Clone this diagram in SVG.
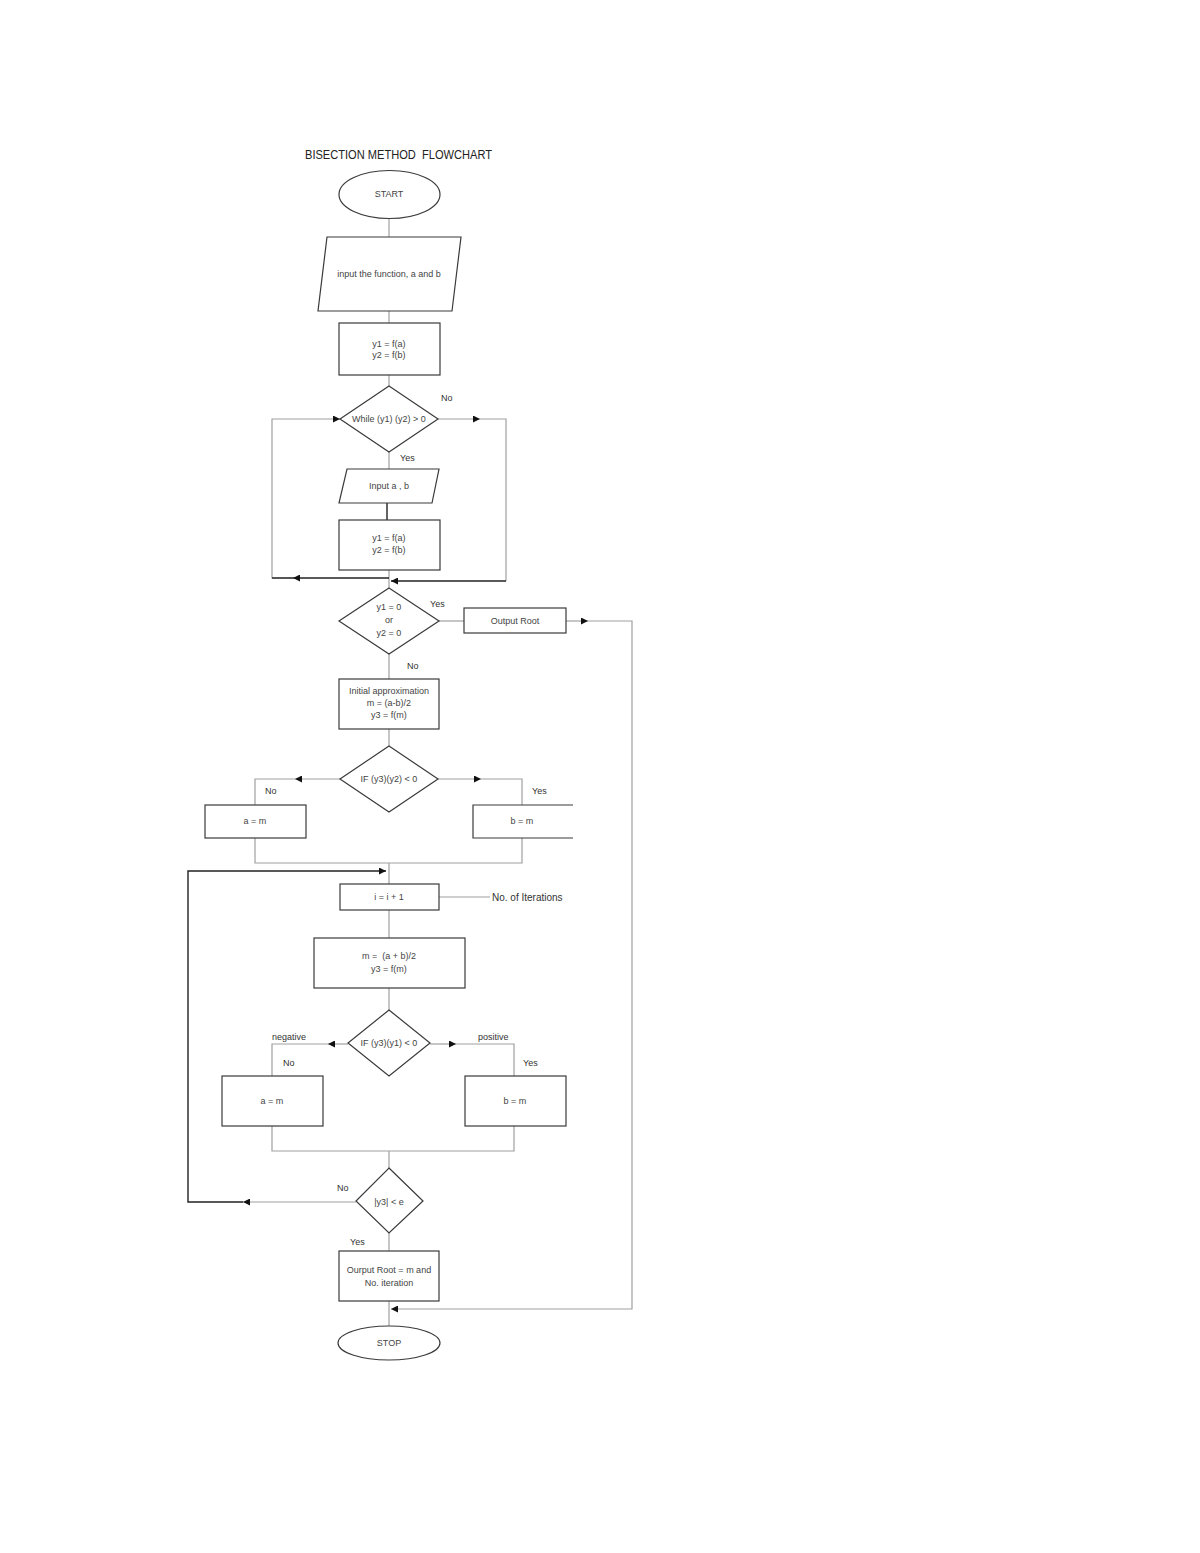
<svg xmlns="http://www.w3.org/2000/svg" width="1200" height="1553" viewBox="0 0 1200 1553">
<style>
.bg{fill:#ffffff}
.node{fill:#ffffff;stroke:#3a3a3a;stroke-width:1.2}
.open{fill:none;stroke:#3a3a3a;stroke-width:1.2}
.t{font-family:"Liberation Sans",Arial,sans-serif;font-size:9px;fill:#444;text-anchor:middle}
.lbl{font-family:"Liberation Sans",Arial,sans-serif;font-size:9px;fill:#333}
.title{font-family:"Liberation Sans",Arial,sans-serif;font-size:12px;fill:#222;white-space:pre}
.c{fill:none;stroke:#a0a0a0;stroke-width:1.2}
.k{fill:none;stroke:#222;stroke-width:1.4}
</style>
<defs>
<marker id="ah" viewBox="0 0 8 8" refX="8" refY="4" markerWidth="7" markerHeight="7" markerUnits="userSpaceOnUse" orient="auto">
<path d="M0,0 L8,4 L0,8 z" fill="#111"/>
</marker>
</defs>
<rect class="bg" x="0" y="0" width="1200" height="1553"/>
<text class="title" xml:space="preserve" x="305" y="159" textLength="187" lengthAdjust="spacingAndGlyphs">BISECTION METHOD  FLOWCHART</text>

<g id="connectors">
<line class="c" x1="389" y1="218" x2="389" y2="237"/>
<line class="c" x1="389" y1="311" x2="389" y2="323"/>
<line class="c" x1="389" y1="375" x2="389" y2="386"/>
<line class="c" x1="389" y1="452" x2="389" y2="469"/>
<line class="k" x1="387" y1="503" x2="387" y2="520"/>
<line class="c" x1="389" y1="570" x2="389" y2="588"/>
<path class="k" d="M389,578 L293,578" marker-end="url(#ah)"/>
<path class="c" d="M293,578 L272,578 L272,419 L340,419" marker-end="url(#ah)"/>
<path class="k" d="M272,578 L293,578"/>
<path class="c" d="M438,419 L480,419" marker-end="url(#ah)"/>
<path class="c" d="M480,419 L506,419 L506,581"/>
<path class="k" d="M506,581 L391,581" marker-end="url(#ah)"/>
<line class="c" x1="439" y1="621" x2="464" y2="621"/>
<path class="c" d="M566,621 L588,621" marker-end="url(#ah)"/>
<path class="c" d="M588,621 L632,621 L632,1309 L391,1309" marker-end="url(#ah)"/>
<line class="c" x1="389" y1="654" x2="389" y2="679"/>
<line class="c" x1="389" y1="729" x2="389" y2="746"/>
<path class="c" d="M340,779 L295,779" marker-end="url(#ah)"/>
<path class="c" d="M295,779 L255,779 L255,805"/>
<path class="c" d="M438,779 L481,779" marker-end="url(#ah)"/>
<path class="c" d="M481,779 L522,779 L522,805"/>
<path class="c" d="M255,838 L255,863 L522,863 L522,838"/>
<line class="c" x1="389" y1="863" x2="389" y2="884"/>
<path class="c" d="M356,1202 L243,1202" marker-end="url(#ah)"/>
<path class="k" d="M243,1202 L188,1202 L188,871 L386,871" marker-end="url(#ah)"/>
<line class="c" x1="439" y1="897" x2="490" y2="897"/>
<line class="c" x1="389" y1="910" x2="389" y2="938"/>
<line class="c" x1="389" y1="988" x2="389" y2="1010"/>
<path class="c" d="M348,1044 L328,1044" marker-end="url(#ah)"/>
<path class="c" d="M328,1044 L272,1044 L272,1076"/>
<path class="c" d="M430,1044 L456,1044" marker-end="url(#ah)"/>
<path class="c" d="M456,1044 L514,1044 L514,1076"/>
<path class="c" d="M272,1126 L272,1151 L514,1151 L514,1126"/>
<line class="c" x1="389" y1="1151" x2="389" y2="1168"/>
<line class="c" x1="389" y1="1233" x2="389" y2="1251"/>
<line class="c" x1="389" y1="1301" x2="389" y2="1326"/>
</g>

<g id="edge-labels">
<text class="lbl" x="441" y="401">No</text>
<text class="lbl" x="400" y="461">Yes</text>
<text class="lbl" x="430" y="607">Yes</text>
<text class="lbl" x="407" y="669">No</text>
<text class="lbl" x="265" y="794">No</text>
<text class="lbl" x="532" y="794">Yes</text>
<text class="lbl" x="492" y="901" style="font-size:10px">No. of Iterations</text>
<text class="lbl" x="272" y="1040">negative</text>
<text class="lbl" x="478" y="1040">positive</text>
<text class="lbl" x="283" y="1066">No</text>
<text class="lbl" x="523" y="1066">Yes</text>
<text class="lbl" x="337" y="1191">No</text>
<text class="lbl" x="350" y="1245">Yes</text>
</g>

<g id="start">
<ellipse class="node" cx="389.5" cy="194.5" rx="50.5" ry="24"/>
<text class="t" x="389" y="197">START</text>
</g>
<g id="input-function">
<polygon class="node" points="327,237 461,237 452,311 318,311"/>
<text class="t" x="389" y="277">input the function, a and b</text>
</g>
<g id="compute-y1y2">
<rect class="node" x="339" y="323" width="101" height="52"/>
<text class="t" x="389" y="347">y1 = f(a)</text>
<text class="t" x="389" y="358">y2 = f(b)</text>
</g>
<g id="while">
<polygon class="node" points="389,386 438,419 389,452 340,419"/>
<text class="t" x="389" y="422">While (y1) (y2) &gt; 0</text>
</g>
<g id="input-ab">
<polygon class="node" points="347,469 439,469 432,503 339,503"/>
<text class="t" x="389" y="489">Input a , b</text>
</g>
<g id="recompute-y1y2">
<rect class="node" x="339" y="520" width="101" height="50"/>
<text class="t" x="389" y="541">y1 = f(a)</text>
<text class="t" x="389" y="553">y2 = f(b)</text>
</g>
<g id="check-zero">
<polygon class="node" points="389,588 439,621 389,654 339,621"/>
<text class="t" x="389" y="610">y1 = 0</text>
<text class="t" x="389" y="623">or</text>
<text class="t" x="389" y="636">y2 = 0</text>
</g>
<g id="output-root">
<rect class="node" x="464" y="608" width="102" height="25"/>
<text class="t" x="515" y="624">Output Root</text>
</g>
<g id="initial-approx">
<rect class="node" x="339" y="679" width="100" height="50"/>
<text class="t" x="389" y="694">Initial approximation</text>
<text class="t" x="389" y="706">m = (a-b)/2</text>
<text class="t" x="389" y="718">y3 = f(m)</text>
</g>
<g id="if-y3y2">
<polygon class="node" points="389,746 438,779 389,812 340,779"/>
<text class="t" x="389" y="782">IF (y3)(y2) &lt; 0</text>
</g>
<g id="a-eq-m-1">
<rect class="node" x="205" y="805" width="101" height="33"/>
<text class="t" x="255" y="824">a = m</text>
</g>
<g id="b-eq-m-1">
<path class="open" d="M573,805 L473,805 L473,838 L573,838"/>
<text class="t" x="522" y="824">b = m</text>
</g>
<g id="increment">
<rect class="node" x="340" y="884" width="99" height="26"/>
<text class="t" x="389" y="900">i = i + 1</text>
</g>
<g id="midpoint">
<rect class="node" x="314" y="938" width="151" height="50"/>
<text class="t" x="389" y="959" xml:space="preserve" style="white-space:pre">m =  (a + b)/2</text>
<text class="t" x="389" y="972">y3 = f(m)</text>
</g>
<g id="if-y3y1">
<polygon class="node" points="389,1010 430,1043 389,1076 348,1043"/>
<text class="t" x="389" y="1046">IF (y3)(y1) &lt; 0</text>
</g>
<g id="a-eq-m-2">
<rect class="node" x="222" y="1076" width="101" height="50"/>
<text class="t" x="272" y="1104">a = m</text>
</g>
<g id="b-eq-m-2">
<rect class="node" x="465" y="1076" width="101" height="50"/>
<text class="t" x="515" y="1104">b = m</text>
</g>
<g id="tolerance">
<polygon class="node" points="389,1168 423,1201 389,1233 356,1201"/>
<text class="t" x="389" y="1205">|y3| &lt; e</text>
</g>
<g id="output-final">
<rect class="node" x="339" y="1251" width="100" height="50"/>
<text class="t" x="389" y="1273">Ourput Root = m and</text>
<text class="t" x="389" y="1286">No. iteration</text>
</g>
<g id="stop">
<ellipse class="node" cx="389" cy="1343" rx="51" ry="17"/>
<text class="t" x="389" y="1346">STOP</text>
</g>
</svg>
